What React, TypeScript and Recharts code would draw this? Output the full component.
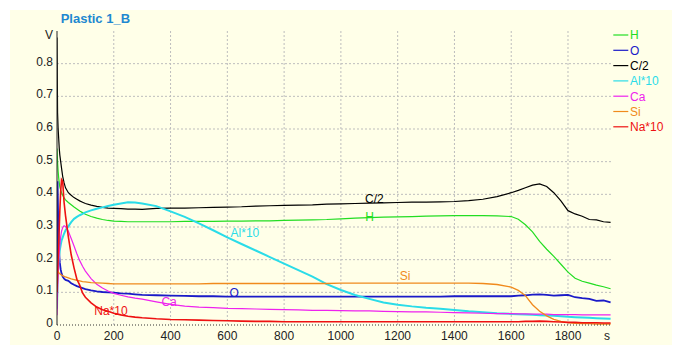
import React from 'react';
import { LineChart, Line, XAxis, YAxis, CartesianGrid, ReferenceDot } from 'recharts';

const FONT = "Arial, 'Liberation Sans', sans-serif";

const TITLE = 'Plastic 1_B';

const TIME = [0, 2, 4, 6, 8, 10, 13, 16, 20, 25, 30, 40, 50, 60, 70, 80, 90, 100, 120, 140, 160, 180, 200, 225, 250, 275, 300,
  350, 400, 450, 500, 550, 600, 650, 700, 750, 800, 850, 900, 950, 1000, 1050, 1100, 1150, 1200, 1250, 1300, 1350, 1400, 1450, 1500, 1550, 1600,
  1625, 1650, 1675, 1700, 1725, 1750, 1775, 1800, 1825, 1850, 1875, 1900, 1925, 1950];

const H_VALUES = [0.54, 0.5, 0.47, 0.45, 0.435, 0.423, 0.413, 0.405, 0.397, 0.389, 0.383, 0.375, 0.368, 0.361, 0.355, 0.349, 0.344, 0.339, 0.332, 0.327, 0.323, 0.32, 0.318, 0.317, 0.316, 0.316, 0.316,
  0.316, 0.316, 0.317, 0.317, 0.317, 0.318, 0.318, 0.319, 0.319, 0.32, 0.321, 0.322, 0.323, 0.325, 0.327, 0.329, 0.33, 0.331, 0.332, 0.333, 0.334, 0.335, 0.335, 0.335, 0.334, 0.332,
  0.324, 0.307, 0.285, 0.256, 0.232, 0.21, 0.186, 0.162, 0.143, 0.134, 0.128, 0.122, 0.117, 0.111];

const O_VALUES = [0.1, 0.44, 0.33, 0.26, 0.215, 0.19, 0.17, 0.158, 0.148, 0.142, 0.138, 0.135, 0.128, 0.123, 0.119, 0.116, 0.113, 0.11, 0.106, 0.103, 0.101, 0.1, 0.099, 0.097, 0.096, 0.094, 0.092,
  0.091, 0.09, 0.089, 0.088, 0.088, 0.087, 0.087, 0.087, 0.087, 0.087, 0.087, 0.087, 0.087, 0.087, 0.087, 0.087, 0.087, 0.087, 0.087, 0.087, 0.087, 0.088, 0.088, 0.088, 0.088, 0.088,
  0.09, 0.091, 0.093, 0.094, 0.092, 0.09, 0.091, 0.092, 0.085, 0.082, 0.08, 0.074, 0.075, 0.069];

const C_VALUES = [0.88, 0.65, 0.6, 0.57, 0.54, 0.52, 0.5, 0.48, 0.455, 0.435, 0.42, 0.405, 0.397, 0.39, 0.385, 0.38, 0.376, 0.372, 0.367, 0.363, 0.36, 0.358, 0.357, 0.356, 0.355, 0.355, 0.354,
  0.357, 0.358, 0.358, 0.359, 0.36, 0.361, 0.362, 0.364, 0.365, 0.366, 0.367, 0.368, 0.37, 0.371, 0.372, 0.373, 0.374, 0.375, 0.376, 0.376, 0.377, 0.378, 0.381, 0.385, 0.393, 0.405,
  0.412, 0.42, 0.428, 0.432, 0.424, 0.405, 0.38, 0.35, 0.34, 0.333, 0.323, 0.322, 0.316, 0.314];

const AL_VALUES = [0.05, 0.14, 0.18, 0.2, 0.215, 0.23, 0.245, 0.258, 0.268, 0.28, 0.29, 0.302, 0.315, 0.325, 0.331, 0.336, 0.34, 0.345, 0.351, 0.356, 0.36, 0.364, 0.368, 0.372, 0.376, 0.375, 0.372,
  0.364, 0.348, 0.331, 0.311, 0.29, 0.268, 0.248, 0.228, 0.208, 0.188, 0.168, 0.148, 0.125, 0.107, 0.092, 0.08, 0.069, 0.062, 0.057, 0.053, 0.05, 0.046, 0.042, 0.039, 0.036, 0.034,
  0.033, 0.032, 0.031, 0.03, 0.029, 0.028, 0.027, 0.025, 0.024, 0.023, 0.022, 0.021, 0.02, 0.019];

const CA_VALUES = [0.03, 0.1, 0.15, 0.19, 0.22, 0.245, 0.27, 0.287, 0.298, 0.304, 0.302, 0.287, 0.265, 0.242, 0.218, 0.197, 0.18, 0.165, 0.142, 0.125, 0.113, 0.104, 0.097, 0.091, 0.086, 0.082, 0.079,
  0.071, 0.063, 0.058, 0.055, 0.053, 0.051, 0.05, 0.049, 0.048, 0.047, 0.046, 0.045, 0.045, 0.044, 0.043, 0.043, 0.042, 0.041, 0.04, 0.04, 0.039, 0.038, 0.037, 0.036, 0.035, 0.035,
  0.034, 0.034, 0.033, 0.033, 0.033, 0.032, 0.032, 0.032, 0.032, 0.031, 0.031, 0.031, 0.031, 0.031];

const SI_VALUES = [0.15, 0.165, 0.163, 0.16, 0.158, 0.157, 0.155, 0.153, 0.151, 0.149, 0.147, 0.144, 0.141, 0.139, 0.137, 0.135, 0.133, 0.132, 0.13, 0.129, 0.128, 0.127, 0.126, 0.126, 0.126, 0.126, 0.126,
  0.126, 0.126, 0.126, 0.126, 0.127, 0.127, 0.127, 0.127, 0.127, 0.127, 0.127, 0.127, 0.127, 0.128, 0.128, 0.128, 0.128, 0.128, 0.128, 0.128, 0.128, 0.128, 0.128, 0.127, 0.124, 0.116,
  0.106, 0.09, 0.062, 0.042, 0.028, 0.017, 0.011, 0.007, 0.005, 0.004, 0.004, 0.003, 0.003, 0.003];

const NA_VALUES = [0.1, 0.16, 0.2, 0.25, 0.3, 0.35, 0.41, 0.445, 0.44, 0.375, 0.335, 0.27, 0.215, 0.175, 0.14, 0.122, 0.098, 0.085, 0.068, 0.055, 0.047, 0.042, 0.036, 0.031, 0.027, 0.024, 0.022,
  0.019, 0.017, 0.016, 0.015, 0.014, 0.013, 0.012, 0.011, 0.011, 0.01, 0.01, 0.01, 0.01, 0.01, 0.01, 0.01, 0.01, 0.01, 0.01, 0.01, 0.01, 0.01, 0.01, 0.01, 0.01, 0.01,
  0.01, 0.011, 0.011, 0.012, 0.011, 0.01, 0.009, 0.008, 0.008, 0.007, 0.007, 0.007, 0.006, 0.006];

const SERIES = [
  { key: 'H', name: 'H', color: '#22DD22', values: H_VALUES, width: 1.2 },
  { key: 'O', name: 'O', color: '#1A1AC8', values: O_VALUES, width: 1.8 },
  { key: 'C', name: 'C/2', color: '#000000', values: C_VALUES, width: 1.2 },
  { key: 'Al', name: 'Al*10', color: '#2ADCE8', values: AL_VALUES, width: 2 },
  { key: 'Ca', name: 'Ca', color: '#EE22EE', values: CA_VALUES, width: 1.2 },
  { key: 'Si', name: 'Si', color: '#F08A1C', values: SI_VALUES, width: 1.3 },
  { key: 'Na', name: 'Na*10', color: '#EE1111', values: NA_VALUES, width: 1.6 },
];

const X_TICKS = [0, 200, 400, 600, 800, 1000, 1200, 1400, 1600, 1800];
const Y_TICKS = [0, 0.1, 0.2, 0.3, 0.4, 0.5, 0.6, 0.7, 0.8];
const X_UNIT = 's';
const Y_UNIT = 'V';
const X_UNIT_AT = 1937;
const Y_UNIT_AT = 0.883;

const INLINE_LABELS = [
  { key: 'C', text: 'C/2', t: 1118, v: 0.385 },
  { key: 'H', text: 'H', t: 1101, v: 0.332 },
  { key: 'Al', text: 'Al*10', t: 662, v: 0.281 },
  { key: 'Si', text: 'Si', t: 1226, v: 0.15 },
  { key: 'O', text: 'O', t: 624, v: 0.099 },
  { key: 'Ca', text: 'Ca', t: 395, v: 0.07 },
  { key: 'Na', text: 'Na*10', t: 190, v: 0.043 },
];

const data = TIME.map((t, i) => {
  const row: Record<string, number> = { t };
  SERIES.forEach((s) => {
    row[s.key] = s.values[i];
  });
  return row;
});

const colorOf = (key: string) => (SERIES.find((s) => s.key === key) || SERIES[0]).color;

const XTick = (props: any) => {
  const { x, y, payload } = props;
  const label = payload.value === X_UNIT_AT ? X_UNIT : String(payload.value);
  return (
    <text x={x} y={y + 15} textAnchor="middle" fontSize={12} fill="#222" fontFamily={FONT}>
      {label}
    </text>
  );
};

const YTick = (props: any) => {
  const { x, y, payload } = props;
  const v = payload.value;
  const label = v === Y_UNIT_AT ? Y_UNIT : String(Number(v.toFixed(1)));
  return (
    <text x={x - 4} y={y + 2} textAnchor="end" fontSize={12} fill="#222" fontFamily={FONT}>
      {label}
    </text>
  );
};

export default function App() {
  return (
    <div style={{ position: 'relative', width: 672, height: 337 }}>
      <div style={{ position: 'absolute', left: 2, top: 2, width: 670, height: 335, background: '#FFFFE8' }} />
      <div style={{ position: 'absolute', left: 0, top: 0 }}>
        <LineChart width={672} height={337} data={data} margin={{ top: 23, right: 68, left: 0, bottom: 0 }}>
          <CartesianGrid
            stroke="#BDBDBD"
            strokeDasharray="2 2"
            horizontalValues={Y_TICKS.filter((v) => v > 0)}
            verticalValues={X_TICKS.filter((v) => v > 0)}
          />
          <XAxis
            dataKey="t"
            type="number"
            domain={[0, 1955]}
            ticks={[...X_TICKS, X_UNIT_AT]}
            tick={XTick}
            tickLine={false}
            tickSize={0}
            tickMargin={0}
            height={20}
            axisLine={{ stroke: '#333', strokeDasharray: '1 2' }}
            allowDataOverflow
          />
          <YAxis
            type="number"
            domain={[0, 0.9]}
            ticks={[...Y_TICKS, Y_UNIT_AT]}
            tick={YTick}
            tickLine={false}
            tickSize={0}
            tickMargin={0}
            width={49}
            axisLine={{ stroke: '#222' }}
            allowDataOverflow
          />
          {SERIES.map((s) => (
            <Line
              key={s.key}
              type="linear"
              dataKey={s.key}
              name={s.name}
              stroke={s.color}
              strokeWidth={s.width}
              dot={false}
              activeDot={false}
              isAnimationActive={false}
            />
          ))}
          {INLINE_LABELS.map((l) => (
            <ReferenceDot
              key={l.text}
              x={l.t}
              y={l.v}
              r={0}
              fill="none"
              stroke="none"
              ifOverflow="visible"
              label={{ value: l.text, position: 'center', fill: colorOf(l.key), fontSize: 12, fontFamily: FONT }}
            />
          ))}
        </LineChart>
      </div>
      <svg width={672} height={337} style={{ position: 'absolute', left: 0, top: 0, pointerEvents: 'none' }}>
        <text x={52.7} y={15.3} fontSize={13} fontWeight="bold" fill="#1E88D0" fontFamily={FONT}>
          {TITLE}
        </text>
        {SERIES.map((s, i) => {
          const cy = 27 + i * 15.3;
          return (
            <g key={s.key}>
              <line x1={605.3} x2={620.3} y1={cy} y2={cy} stroke={s.color} strokeWidth={1.2} />
              <text x={622} y={cy + 4.3} fontSize={12} fill={s.color} fontFamily={FONT}>
                {s.name}
              </text>
            </g>
          );
        })}
      </svg>
    </div>
  );
}
